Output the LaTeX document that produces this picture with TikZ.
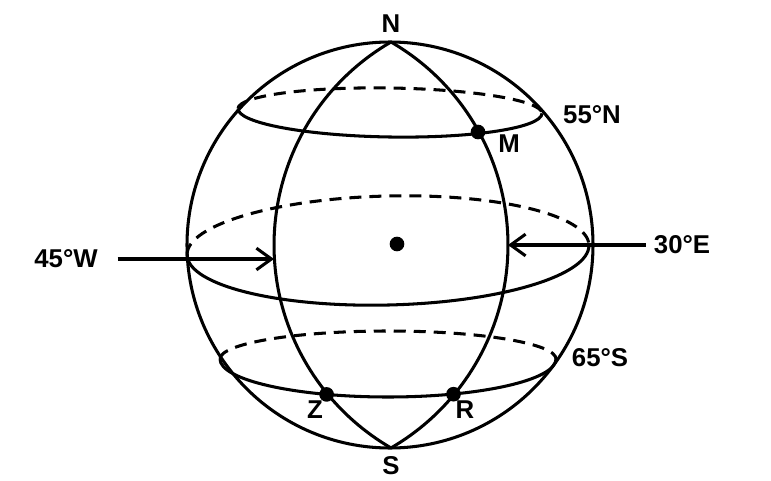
\documentclass[tikz,border=0pt]{standalone}
\usepackage{fontspec}
\setmainfont{Liberation Sans}
\usetikzlibrary{positioning, arrows.meta}

\tikzset{
    tag/.style={font=\bfseries\fontsize{22}{24}\selectfont, inner sep=0pt},
    spot/.style={circle, fill, inner sep=0pt, minimum size=4.4mm},
    back/.style={dash pattern=on 3.6mm off 2.4mm},
}

\begin{document}
\begin{tikzpicture}[x=0.3mm, y=0.3mm, line width=2.6pt, >={Straight Barb[length=4.5mm, width=6.5mm]}]
    \useasboundingbox (0,0) rectangle (771,480);

    \coordinate (O) at (390,235);
    \coordinate (N) at (391,438);
    \coordinate (S) at (391,32);

    % globe and meridians
    \draw (O) circle[radius=203];
    \draw (N) arc[start angle=120.1, end angle=239.9, radius=234.6];
    \draw (N) arc[start angle=59.9, end angle=-59.9, radius=234.6];

    % 55 N
    \draw[back, rotate around={-0.9:(390,369)}] (238,369) arc[start angle=180, end angle=0, x radius=152, y radius=23];
    \draw[rotate around={-0.9:(390,369)}]       (238,369) arc[start angle=180, end angle=360, x radius=152, y radius=26];

    % equator
    \draw[back, rotate around={1.4:(388,230)}] (187,230) arc[start angle=180, end angle=0, x radius=201, y radius=54];
    \draw[rotate around={1.4:(388,230)}]       (187,230) arc[start angle=180, end angle=360, x radius=201, y radius=55];

    % 65 S
    \draw[back] (220,121) arc[start angle=180, end angle=0, x radius=168, y radius=28];
    \draw       (220,121) arc[start angle=180, end angle=360, x radius=168, y radius=38];

    \node[tag, above=2.5mm of N]    (Ntag)  {N};
    \node[tag, below=2.2mm of S]    (Stag)  {S};
    \node[tag] at (592,365)         (n55)   {55°N};
    \node[tag] at (600,122)         (s65)   {65°S};
    \node[tag] at (66,221)          (w45)   {45°W};
    \node[tag] at (682,235)         (e30)   {30°E};

    \coordinate (wtip) at (274,221);
    \coordinate (etip) at (508,235);
    \draw[->, shorten <=5.5mm] (w45) -- (wtip);
    \draw[->, shorten <=2mm] (e30) -- (etip);

    \node[spot] at (397,236)        (centre) {};
    \node[spot] at (478,348)        (M)     {};
    \node[spot] at (326.6,85.6)     (Z)     {};
    \node[spot] at (453.5,85.8)     (R)     {};
    \node[tag] at (509,336)         (Mtag)  {M};
    \node[tag] at (315,70)          (Ztag)  {Z};
    \node[tag] at (465,70)          (Rtag)  {R};
\end{tikzpicture}
\end{document}
